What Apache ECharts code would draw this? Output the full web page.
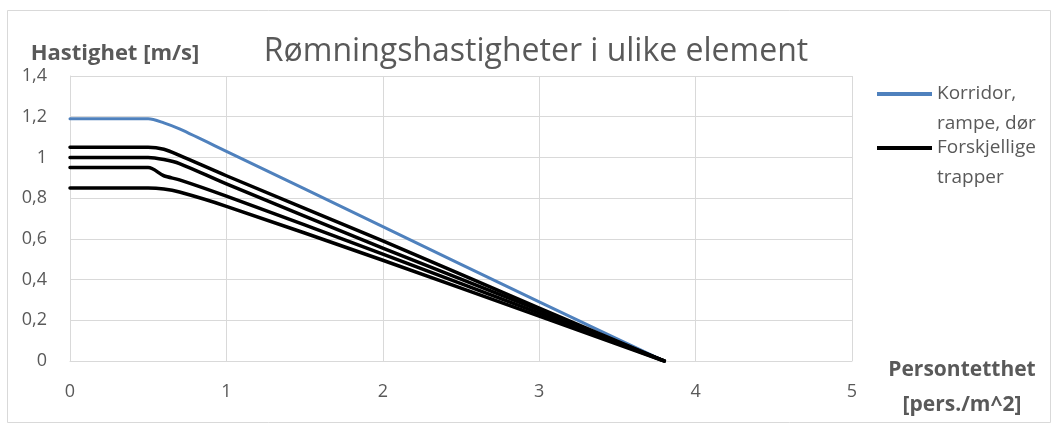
<!DOCTYPE html>
<html>
<head>
<meta charset="utf-8">
<script src="https://cdn.jsdelivr.net/npm/echarts@6/dist/echarts.min.js"></script>
<style>
html,body{margin:0;padding:0;background:#fff;}
#chart{width:1059px;height:432px;}
</style>
</head>
<body>
<div id="chart"></div>
<script>
// Data
const titleText = 'Rømningshastigheter i ulike element';
const yAxisName = 'Hastighet [m/s]';
const xAxisNameLines = ['Persontetthet', '[pers./m^2]'];
const corridorName = 'Korridor, rampe, dør';
const corridorLegendLines = ['Korridor,', 'rampe, dør'];
const stairName = 'Forskjellige trapper';
const stairLegendLines = ['Forskjellige', 'trapper'];

const density = [0, 0.5, 0.6, 0.7, 1, 2, 3, 3.8];
const corridorSpeed = [1.19, 1.19, 1.17, 1.14, 1.03, 0.66, 0.29, 0];
const stair1Speed = [1.05, 1.05, 1.04, 1.01, 0.91, 0.59, 0.26, 0];
const stair2Speed = [1.00, 1.00, 0.99, 0.97, 0.87, 0.555, 0.25, 0];
const stair3Speed = [0.95, 0.95, 0.91, 0.89, 0.81, 0.525, 0.235, 0];
const stair4Speed = [0.85, 0.85, 0.845, 0.83, 0.76, 0.495, 0.22, 0];

const xTickLabels = ['0', '1', '2', '3', '4', '5'];
const yTickLabels = ['0', '0,2', '0,4', '0,6', '0,8', '1', '1,2', '1,4'];

const FONT = '"Open Sans", Lato, sans-serif';
const TXT = '#595959';
const GRIDC = '#d9d9d9';

function pairs(xs, ys) { return xs.map((x, i) => [x, ys[i]]); }

const chart = echarts.init(document.getElementById('chart'), null, {renderer: 'canvas'});

function lineSeries(name, ys, color, width) {
  return {
    type: 'line',
    name: name,
    data: pairs(density, ys),
    symbol: 'none',
    showSymbol: false,
    smooth: 0.3,
    lineStyle: {color: color, width: width, cap: 'round', join: 'round'},
    itemStyle: {color: color},
    emphasis: {disabled: true},
    animation: false
  };
}

const legendLines = {};
legendLines[corridorName] = corridorLegendLines;
legendLines[stairName] = stairLegendLines;

chart.setOption({
  animation: false,
  backgroundColor: '#fff',
  textStyle: {fontFamily: FONT},
  title: {
    text: titleText,
    left: 531,
    textAlign: 'center',
    top: 31,
    textStyle: {fontFamily: FONT, fontSize: 32, fontWeight: 'normal', color: TXT}
  },
  legend: {
    orient: 'vertical',
    left: 872,
    top: 44,
    itemWidth: 55,
    itemHeight: 4,
    itemGap: -36,
    icon: 'rect',
    selectedMode: false,
    itemStyle: {borderWidth: 0},
    data: [corridorName, stairName],
    formatter: function (name) { return '\n' + legendLines[name].join('\n'); },
    textStyle: {fontFamily: FONT, fontSize: 19, color: TXT, lineHeight: 30}
  },
  grid: {left: 70, right: 207, top: 76, bottom: 71, containLabel: false},
  xAxis: {
    type: 'value',
    min: 0, max: 5, interval: 1,
    axisLine: {show: true, lineStyle: {color: GRIDC, width: 1}},
    axisTick: {show: false},
    axisLabel: {color: TXT, fontFamily: FONT, fontSize: 18, margin: 22,
      formatter: function (v) { return xTickLabels[Math.round(v)]; }},
    splitLine: {show: true, lineStyle: {color: GRIDC, width: 1}}
  },
  yAxis: {
    type: 'value',
    min: 0, max: 1.4, interval: 0.2,
    name: yAxisName,
    nameLocation: 'end',
    nameGap: 11,
    nameTextStyle: {fontFamily: FONT, fontSize: 22, fontWeight: 'bold', color: TXT,
      align: 'center', padding: [0, 0, 0, 90]},
    axisLine: {show: true, lineStyle: {color: GRIDC, width: 1}},
    axisTick: {show: false},
    axisLabel: {color: TXT, fontFamily: FONT, fontSize: 18, margin: 23,
      formatter: function (v) { return yTickLabels[Math.round(v / 0.2)]; }},
    splitLine: {show: true, lineStyle: {color: GRIDC, width: 1}}
  },
  graphic: [{
    type: 'rect',
    shape: {x: 7.5, y: 10.5, width: 1043, height: 412},
    style: {fill: 'none', stroke: GRIDC, lineWidth: 1},
    silent: true,
    z: -1
  }, {
    type: 'text',
    x: 962,
    y: 388,
    style: {
      text: xAxisNameLines.join('\n'),
      font: 'bold 21px ' + FONT,
      fill: TXT,
      align: 'center',
      verticalAlign: 'middle',
      lineHeight: 35
    },
    silent: true
  }],
  series: [
    lineSeries(corridorName, corridorSpeed, '#4F81BD', 3),
    lineSeries(stairName, stair1Speed, '#000000', 3.5),
    lineSeries(stairName, stair2Speed, '#000000', 3.5),
    lineSeries(stairName, stair3Speed, '#000000', 3.5),
    lineSeries(stairName, stair4Speed, '#000000', 3.5)
  ]
});
</script>
</body>
</html>
